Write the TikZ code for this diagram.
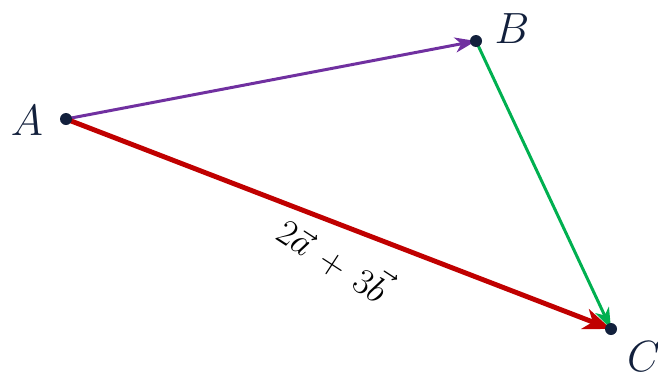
\documentclass[tikz,border=0pt]{standalone}
\usepackage{amsmath}
\usepackage{tikz}
\usetikzlibrary{positioning,arrows.meta,calc}
\definecolor{PointColor}{RGB}{18, 32, 60}
\definecolor{ABColor}{RGB}{112, 48, 160}
\definecolor{BCColor}{RGB}{0, 176, 80}
\definecolor{ACColor}{RGB}{192, 0, 0}
\tikzset{pt/.style={circle,fill=PointColor,inner sep=0pt,minimum size=0.24cm},
	ptlabel/.style={text=PointColor,font=\fontsize{26}{30}\selectfont},
	vec/.style={-{Stealth[length=0.42cm,width=0.3cm,inset=0.12cm]},line width=1.7pt}}

\begin{document}
\begin{tikzpicture}[scale=1]
	\useasboundingbox (0,0) rectangle (13.16,7.58);
	\coordinate (A) at (1.32,5.2);
	\coordinate (B) at (9.52,6.76);
	\coordinate (C) at (12.22,1.0);
	\draw[vec,ABColor] (A) -- (B);
	\draw[vec,BCColor] (B) -- (C);
	\draw[vec,ACColor,line width=2.8pt,-{Stealth[length=0.55cm,width=0.42cm,inset=0.16cm]}] (A) -- (C);
	\node[pt] (pA) at (A) {};
	\node[pt] (pB) at (B) {};
	\node[pt] (pC) at (C) {};
	\node[ptlabel] (lA) at (0.54,5.16) {$A$};
	\node[ptlabel] (lB) at (10.24,7.0) {$B$};
	\node[ptlabel] (lC) at (12.88,0.44) {$C$};
	\node[rotate=-33,font=\fontsize{21}{24}\selectfont] (lAC) at (6.7,2.42) {$2\vec{a}\,+\,3\vec{b}$};
\end{tikzpicture}
\end{document}
